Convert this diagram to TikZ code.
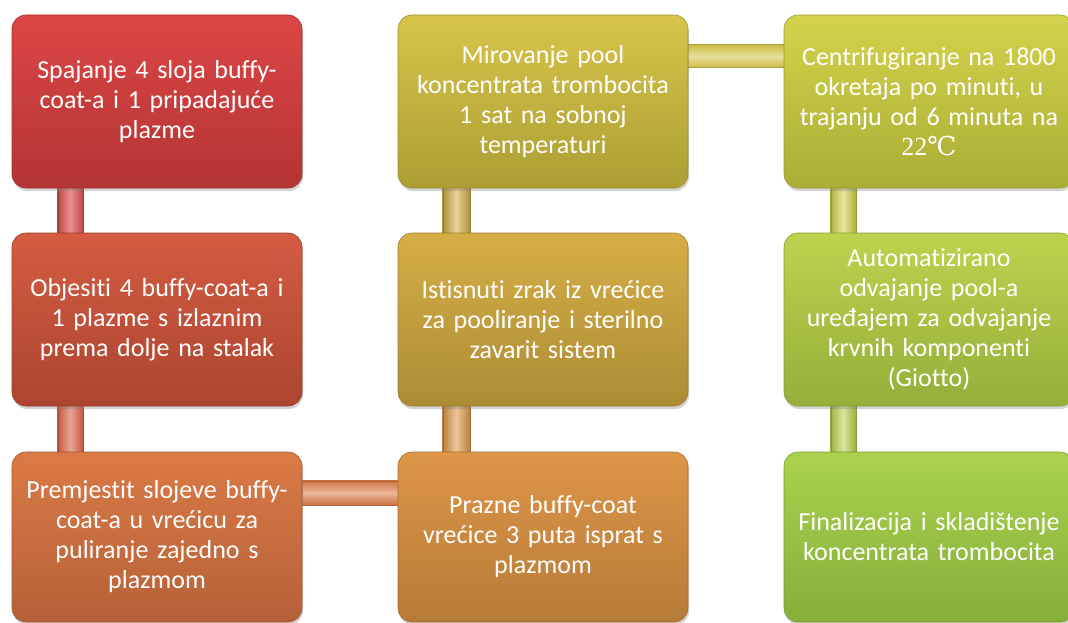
\documentclass[tikz,border=0pt]{standalone}
\usepackage{fontspec}
\setmainfont{Carlito}[Ligatures=NoCommon]
\newfontfamily\symfont{DejaVu Serif}
\newfontfamily\timesfont{Liberation Serif}
\usetikzlibrary{shadows,calc,backgrounds}
\definecolor{rA}{HTML}{DC4646}\definecolor{rB}{HTML}{B43434}
\definecolor{oA}{HTML}{D45C42}\definecolor{oB}{HTML}{AC4430}
\definecolor{pA}{HTML}{DA7A46}\definecolor{pB}{HTML}{B66038}
\definecolor{qA}{HTML}{DE9648}\definecolor{qB}{HTML}{B67A38}
\definecolor{sA}{HTML}{D6AE46}\definecolor{sB}{HTML}{AC8C34}
\definecolor{tA}{HTML}{D8C44A}\definecolor{tB}{HTML}{AC9E34}
\definecolor{uA}{HTML}{D4D24C}\definecolor{uB}{HTML}{AAAE36}
\definecolor{vA}{HTML}{BED24E}\definecolor{vB}{HTML}{96AE3A}
\definecolor{wA}{HTML}{AAD24E}\definecolor{wB}{HTML}{86AE3A}
\begin{document}
\begin{tikzpicture}[x=1pt,y=-1pt,
  box/.style={rounded corners=14pt, minimum width=290pt, minimum height=173pt,
    text width=286pt, align=center, inner sep=0pt, text=white,
    font=\fontsize{26}{30}\selectfont,
    drop shadow={opacity=0.35, shadow xshift=1pt, shadow yshift=-3pt}},
  fillc/.style n args={2}{top color=#1, bottom color=#2, draw=#2!90!black, line width=0.6pt},
  vbar/.style n args={2}{left color=#1, right color=#1, middle color=#2, draw=#1!85!black, line width=0.4pt},
  hbar/.style n args={2}{top color=#1, bottom color=#1, middle color=#2, draw=#1!85!black, line width=0.4pt}
]
\path[use as bounding box] (0,0) rectangle (1068,623);

\node[box, fillc={rA}{rB}] (b1) at (157,101.5) {Spajanje 4 sloja buffy-\\coat-a i 1 pripadajuće\\plazme};
\node[box, fillc={oA}{oB}] (b2) at (157,319.5) {Objesiti 4 buffy-coat-a i\\1 plazme s izlaznim\\prema dolje na stalak};
\node[box, fillc={pA}{pB}, minimum height=170pt] (b3) at (157,537) {Premjestit slojeve buffy-\\coat-a u vrećicu za\\puliranje zajedno s\\plazmom};
\node[box, fillc={qA}{qB}, minimum height=170pt] (b4) at (543,537) {Prazne buffy-coat\\vrećice 3 puta isprat s\\plazmom};
\node[box, fillc={sA}{sB}] (b5) at (543,319.5) {Istisnuti zrak iz vrećice\\za pooliranje i sterilno\\zavarit sistem};
\node[box, fillc={tA}{tB}] (b6) at (543,101.5) {Mirovanje pool\\koncentrata trombocita\\1 sat na sobnoj\\temperaturi};
\node[box, fillc={uA}{uB}] (b7) at (929,101.5) {Centrifugiranje na 1800\\okretaja po minuti, u\\trajanju od 6 minuta na\\{\timesfont 22}{\symfont ℃}};
\node[box, fillc={vA}{vB}] (b8) at (929,319.5) {Automatizirano\\odvajanje pool-a\\uređajem za odvajanje\\krvnih komponenti\\(Giotto)};
\node[box, fillc={wA}{wB}, minimum height=170pt] (b9) at (929,537) {Finalizacija i skladištenje\\koncentrata trombocita};

\begin{pgfonlayer}{background}
  \path[vbar={rB!90!white}{rA!60!white}] ($(b1.south west)+(46,-10)$) rectangle ($(b2.north west)+(71,10)$);
  \path[vbar={oA!95!black}{oA!55!white}] ($(b2.south west)+(46,-10)$) rectangle ($(b3.north west)+(71,10)$);
  \path[hbar={pA!95!black}{pA!55!white}] ($(b3.north east)+(-10,29)$) rectangle ($(b4.north west)+(10,53)$);
  \path[vbar={qB!95!white}{qA!55!white}] ($(b4.north west)+(45,10)$) rectangle ($(b5.south west)+(72,-10)$);
  \path[vbar={sB!95!white}{sA!55!white}] ($(b5.north west)+(45,10)$) rectangle ($(b6.south west)+(72,-10)$);
  \path[hbar={tA!95!black}{tA!55!white}] ($(b6.north east)+(-10,30)$) rectangle ($(b7.north west)+(10,53)$);
  \path[vbar={uB!95!white}{uA!55!white}] ($(b7.south west)+(47,-10)$) rectangle ($(b8.north west)+(72,10)$);
  \path[vbar={vB!95!white}{vA!55!white}] ($(b8.south west)+(47,-10)$) rectangle ($(b9.north west)+(72,10)$);
\end{pgfonlayer}
\end{tikzpicture}
\end{document}
